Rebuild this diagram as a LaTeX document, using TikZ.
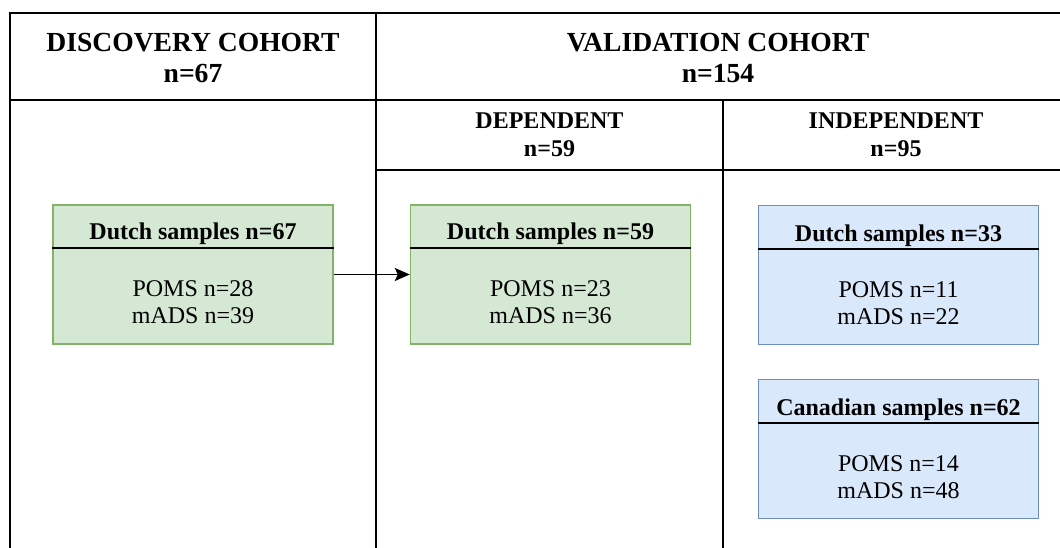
\documentclass[tikz,border=0pt]{standalone}
\usepackage{fontspec}
\setmainfont{Liberation Serif}
\usetikzlibrary{arrows.meta}

\definecolor{greenfill}{HTML}{D5E8D4}
\definecolor{greenline}{HTML}{82B366}
\definecolor{bluefill}{HTML}{DAE8FC}
\definecolor{blueline}{HTML}{6C8EBF}

\tikzset{
  grid/.style={line width=1.8pt, black},
  headtext/.style={font=\bfseries\fontsize{27.6}{31}\selectfont, align=center, inner sep=0pt},
  subtext/.style={font=\bfseries\fontsize{24}{28}\selectfont, align=center, inner sep=0pt},
  sample/.style={rectangle, line width=1.4pt, minimum width=280pt, minimum height=139pt, inner sep=0pt},
  dutchgreen/.style={sample, draw=greenline, fill=greenfill},
  dutchblue/.style={sample, draw=blueline, fill=bluefill},
  boxtitle/.style={font=\bfseries\fontsize{24}{27}\selectfont, anchor=base, inner sep=0pt},
  boxbody/.style={font=\fontsize{24}{27}\selectfont, align=center, inner sep=0pt},
  divider/.style={line width=1.5pt, black},
  flow/.style={line width=1.8pt, -{Stealth[length=15pt, width=13pt, inset=3pt]}}
}

\begin{document}
\begin{tikzpicture}[x=1pt, y=-1pt]
  \useasboundingbox (0,0) rectangle (1060,548);

  % table frame
  \draw[grid] (10,548) -- (10,13) -- (1060,13);
  \draw[grid] (10,100) -- (1060,100);
  \draw[grid] (376,13) -- (376,548);
  \draw[grid] (376,170) -- (1060,170);
  \draw[grid] (723,100) -- (723,548);

  % column headings
  \node[headtext] (hdisc) at (193,58) {DISCOVERY COHORT\\n=67};
  \node[headtext] (hval) at (718,58) {VALIDATION COHORT\\n=154};
  \node[subtext] (hdep) at (549.5,135) {DEPENDENT\\n=59};
  \node[subtext] (hind) at (896,135) {INDEPENDENT\\n=95};

  % sample boxes
  \node[dutchgreen] (disc) at (193,274.5) {};
  \draw[divider] (disc.west |- 0,248) -- (disc.east |- 0,248);
  \node[boxtitle] (disct) at (193,240) {Dutch samples n=67};
  \node[boxbody] (discb) at (193,302) {POMS n=28\\mADS n=39};

  \node[dutchgreen] (dep) at (550.5,274.5) {};
  \draw[divider] (dep.west |- 0,248) -- (dep.east |- 0,248);
  \node[boxtitle] (dept) at (550.5,240) {Dutch samples n=59};
  \node[boxbody] (depb) at (550.5,302) {POMS n=23\\mADS n=36};

  \node[dutchblue] (ind) at (898.5,275) {};
  \draw[divider] (ind.west |- 0,249) -- (ind.east |- 0,249);
  \node[boxtitle] (indt) at (898.5,241) {Dutch samples n=33};
  \node[boxbody] (indb) at (898.5,303) {POMS n=11\\mADS n=22};

  \node[dutchblue] (can) at (898.5,449) {};
  \draw[divider] (can.west |- 0,423) -- (can.east |- 0,423);
  \node[boxtitle] (cant) at (898.5,415) {Canadian samples n=62};
  \node[boxbody] (canb) at (898.5,477) {POMS n=14\\mADS n=48};

  % discovery feeds the dependent validation set
  \draw[flow] (disc.east) -- (dep.west);
\end{tikzpicture}
\end{document}
